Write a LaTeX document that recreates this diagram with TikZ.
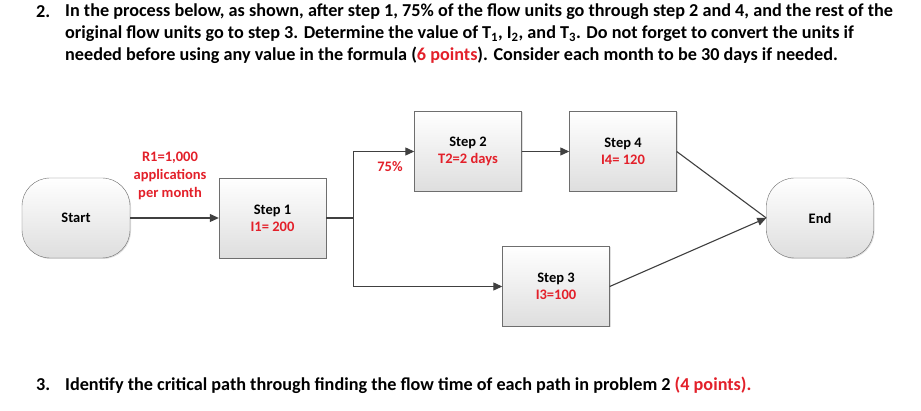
\documentclass[tikz,border=0pt]{standalone}
\usepackage{fontspec}
\setmainfont{Carlito}
\usepackage{tikz}
\usetikzlibrary{arrows.meta,shadows}
\definecolor{boxgray}{HTML}{6E6E6E}
\definecolor{linegray}{HTML}{404040}
\definecolor{pointred}{HTML}{E3202A}

\tikzset{
  stepbox/.style={draw=boxgray,top color=white,bottom color=black!13,
    minimum width=107pt,minimum height=80pt,align=center,
    font=\fontsize{14.5}{17}\selectfont\bfseries,
    drop shadow={shadow xshift=1pt,shadow yshift=-1pt,opacity=.25}},
  termbox/.style={stepbox,rounded corners=28pt},
  flow/.style={linegray,line width=1.1pt},
  qline/.style={anchor=west,font=\fontsize{18.2}{21}\selectfont\bfseries,inner sep=0pt}
}

\begin{document}
\begin{tikzpicture}[x=1pt,y=-1pt,>={Triangle[length=9pt,width=8pt]}]
  \useasboundingbox[fill=white] (0,0) rectangle (921,411);

  % question text
  \node[qline] (n2) at (36,12) {2.};
  \node[qline] (q1) at (65,12) {In the process below, as shown, after step 1, 75\% of the flow units go through step 2 and 4, and the rest of the};
  \node[qline] (q2) at (65,34) {original flow units go to step 3. Determine the value of T\textsubscript{1}, I\textsubscript{2}, and T\textsubscript{3}. Do not forget to convert the units if};
  \node[qline] (q3) at (65,55) {needed before using any value in the formula (\textcolor{pointred}{6 points}). Consider each month to be 30 days if needed.};

  % process boxes
  \node[termbox,minimum width=108pt] (start) at (76,218) {Start};
  \node[stepbox] (s1) at (272.5,218) {Step 1\\\textcolor{pointred}{I1= 200}};
  \node[stepbox] (s2) at (468,151.5) {Step 2\\\textcolor{pointred}{T2=2 days}};
  \node[stepbox] (s4) at (623,151.5) {Step 4\\\textcolor{pointred}{I4= 120}};
  \node[stepbox] (s3) at (556,286.5) {Step 3\\\textcolor{pointred}{I3=100}};
  \node[termbox] (end) at (820,218) {End};

  % connectors
  \draw[flow,->] (start) -- (s1);
  \draw[flow] (s1.east) -- ++(27,0) coordinate (split);
  \draw[flow,->] (split) |- (s2.west);
  \draw[flow,->] (split) |- (s3.west);
  \draw[flow,->] (s2) -- (s4);
  \draw[flow] (s4.east) -- (end.west) coordinate (endin);
  \draw[flow,->] (s3.east) -- (endin);

  \node[pointred,font=\fontsize{14.5}{18}\selectfont\bfseries,align=center]
    (rate) at (170,176) {R1=1,000\\applications\\per month};
  \node[pointred,font=\fontsize{14.5}{17}\selectfont\bfseries] (share) at (390,167) {75\%};

  \node[qline] (n3) at (36,385) {3.};
  \node[qline] (q4) at (65,385) {Identify the critical path through finding the flow time of each path in problem 2 \textcolor{pointred}{(4 points).}};
\end{tikzpicture}
\end{document}
